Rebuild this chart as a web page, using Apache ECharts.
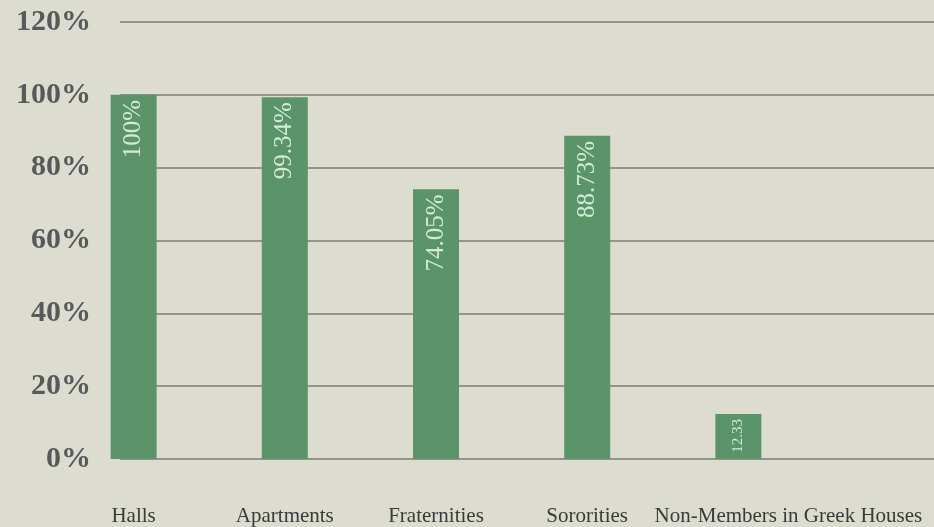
<!DOCTYPE html>
<html>
<head>
<meta charset="utf-8">
<script src="https://cdn.jsdelivr.net/npm/echarts@6/dist/echarts.min.js"></script>
<style>
  html, body { margin: 0; padding: 0; background: #dcdcd0; }
  #chart { width: 934px; height: 527px; }
</style>
</head>
<body>
<div id="chart"></div>
<script>
var categories = ['Halls', 'Apartments', 'Fraternities', 'Sororities', 'Non-Members in Greek Houses'];
var values = [100, 99.34, 74.05, 88.73, 12.33];
var valueLabels = ['100%', '99.34%', '74.05%', '88.73%', '12.33'];
var yMax = 120;
var yStep = 20;

var chart = echarts.init(document.getElementById('chart'));

// category labels; the long last one is pushed right a bit so it clears "Sororities"
var catData = categories.map(function (c, i) {
  if (i === categories.length - 1) {
    return { value: c, textStyle: { padding: [0, 0, 0, 100] } };
  }
  return c;
});

var option = {
  backgroundColor: '#dcdcd0',
  animation: false,
  grid: [
    // bars
    { left: 58, right: 120, top: 22, bottom: 68 },
    // gridlines + y labels
    { left: 120, right: 0, top: 22, bottom: 68 }
  ],
  xAxis: [
    {
      type: 'category',
      gridIndex: 0,
      data: catData,
      axisLine: { show: false },
      axisTick: { show: false },
      axisLabel: {
        interval: 0,
        margin: 47,
        fontFamily: 'Liberation Serif',
        fontSize: 21,
        color: '#3a3a3a'
      }
    },
    {
      type: 'value',
      gridIndex: 1,
      show: false
    }
  ],
  yAxis: [
    {
      type: 'value',
      gridIndex: 0,
      min: 0,
      max: yMax,
      interval: yStep,
      show: false
    },
    {
      type: 'value',
      gridIndex: 1,
      min: 0,
      max: yMax,
      interval: yStep,
      axisLine: { show: false },
      axisTick: { show: false },
      axisLabel: {
        margin: 29,
        formatter: '{value}%',
        fontFamily: 'Liberation Serif',
        fontWeight: 'bold',
        fontSize: 30,
        color: '#595959'
      },
      splitLine: { lineStyle: { color: '#7c7c74', width: 1.5 } }
    }
  ],
  series: [
    {
      type: 'bar',
      xAxisIndex: 0,
      yAxisIndex: 0,
      data: values,
      barWidth: 46,
      itemStyle: { color: '#5a9468' },
      label: {
        show: true,
        position: 'insideTop',
        rotate: 90,
        align: 'right',
        verticalAlign: 'middle',
        distance: 5,
        fontFamily: 'Liberation Serif',
        fontSize: 25,
        color: '#d2ebd6',
        formatter: function (p) {
          return valueLabels[p.dataIndex];
        }
      },
      labelLayout: function (p) {
        return p.dataIndex === 4 ? { fontSize: 15 } : {};
      }
    }
  ]
};

chart.setOption(option);
</script>
</body>
</html>
